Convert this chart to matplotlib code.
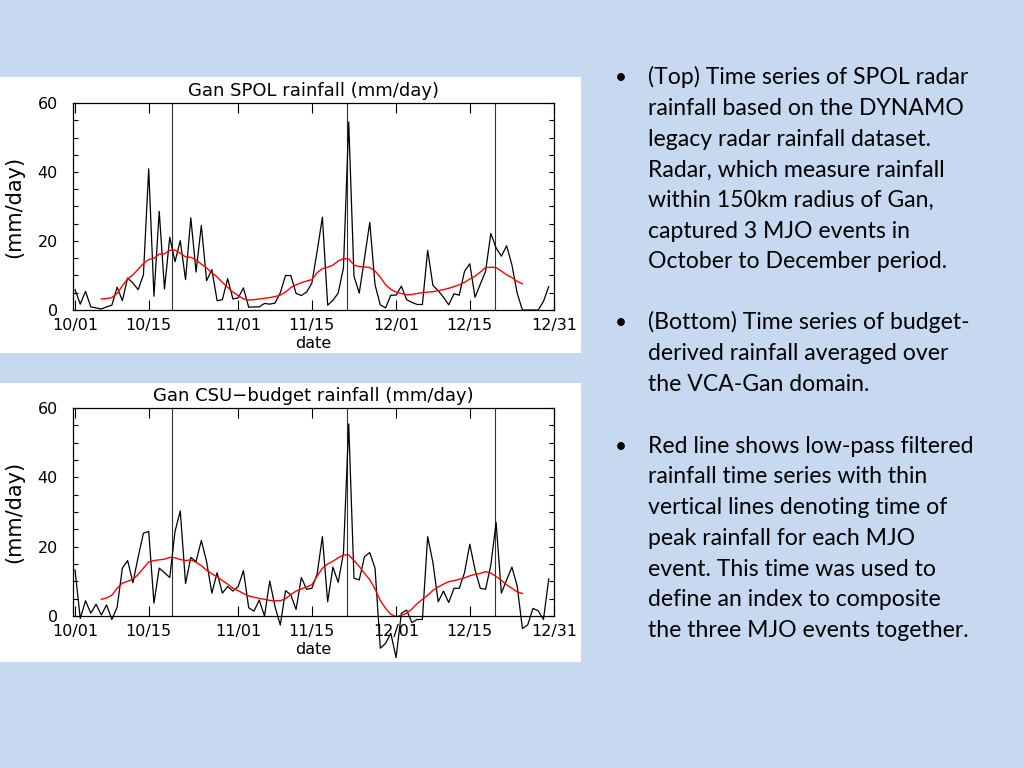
import matplotlib
matplotlib.use("Agg")
import matplotlib.pyplot as plt
from matplotlib.patches import Rectangle
import numpy as np

# ============================================================
# Data
# ============================================================
# day index 0 = 10/01, daily values through 12/30
spol_daily = [
    5.9, 1.7, 5.4, 0.9, 0.6, 0.3, 0.9, 1.4, 6.6, 2.7,
    9.3, 7.8, 5.9, 10.2, 40.9, 4.0, 28.6, 6.1, 21.1, 14.0,
    20.1, 8.8, 26.7, 11.0, 24.5, 8.5, 11.7, 2.7, 3.0, 9.1,
    3.2, 3.5, 6.4, 0.8, 0.9, 0.9, 1.9, 1.7, 2.0, 5.0,
    10.0, 10.0, 4.8, 4.2, 5.2, 7.8, 17.0, 26.9, 1.4, 2.8,
    4.9, 12.2, 54.5, 9.8, 4.9, 15.0, 25.4, 7.3, 1.5, 0.6,
    4.3, 4.3, 6.9, 3.0, 2.2, 1.6, 1.6, 17.3, 7.1, 5.6,
    3.7, 1.5, 4.7, 4.3, 11.2, 13.4, 3.7, 7.5, 11.2, 22.2,
    18.0, 15.6, 18.6, 13.1, 4.9, 0.0, 0.0, 0.0, 0.0, 2.5,
    6.8,
]
budget_daily = [
    13.3, -0.7, 4.4, 0.8, 3.4, 0.3, 3.2, -1.0, 2.5, 13.8,
    16.0, 9.6, 17.0, 23.9, 24.4, 3.7, 13.8, 12.5, 11.1, 24.4,
    30.3, 9.4, 16.9, 15.7, 21.8, 15.7, 6.6, 12.5, 6.6, 8.5,
    7.2, 8.5, 13.1, 2.4, 1.4, 4.6, 0.0, 10.1, 2.7, -2.6,
    7.3, 6.1, 1.9, 11.1, 7.7, 8.0, 12.1, 22.9, 4.1, 14.1,
    9.7, 18.1, 55.4, 10.9, 10.4, 17.1, 18.3, 13.8, -9.3, -7.9,
    -5.0, -12.0, 0.8, 1.7, -1.9, -1.0, -1.0, 22.9, 15.4, 4.1,
    7.2, 3.9, 8.0, 8.0, 12.5, 20.7, 13.3, 8.0, 7.7, 14.7,
    27.0, 6.6, 10.4, 14.1, 8.7, -3.6, -2.6, 2.2, 1.5, -1.0,
    10.7,
]

# low-pass filtered series, days 5..85
filt_start = 5
spol_filtered = [
    3.2, 3.3, 3.6, 4.8, 7.0, 9.0, 10.2, 11.8, 13.5, 14.6,
    15.0, 16.2, 16.3, 17.3, 17.4, 16.5, 15.4, 15.3, 14.5, 13.3,
    12.2, 10.8, 9.6, 8.0, 6.6, 5.2, 4.2, 3.2, 2.9, 3.0,
    3.2, 3.4, 3.6, 3.9, 4.3, 5.2, 6.5, 7.3, 7.9, 8.4,
    8.8, 10.8, 12.0, 12.4, 13.0, 14.2, 14.9, 14.8, 13.0, 12.6,
    12.5, 12.3, 11.3, 9.5, 7.3, 6.0, 5.2, 4.8, 4.4, 4.5,
    4.8, 5.0, 5.2, 5.3, 5.6, 5.9, 6.3, 6.8, 7.3, 8.0,
    9.0, 9.8, 11.0, 12.3, 12.4, 12.3, 11.3, 10.2, 9.4, 8.3,
    7.6,
]
budget_filtered = [
    4.8, 5.2, 6.0, 8.0, 9.5, 10.0, 10.6, 12.0, 13.8, 15.6,
    16.0, 16.2, 16.4, 16.9, 16.8, 16.3, 16.0, 16.2, 15.5, 14.5,
    13.2, 12.2, 11.3, 10.2, 9.2, 8.0, 7.3, 6.5, 5.8, 5.4,
    5.1, 4.8, 4.5, 4.4, 4.4, 5.0, 6.2, 7.2, 7.8, 8.4,
    9.0, 11.5, 13.8, 15.0, 15.8, 16.8, 17.6, 17.6, 16.0, 14.3,
    12.3, 10.5, 7.8, 4.5, 2.2, 0.5, -0.2, 0.2, 0.8, 2.0,
    3.6, 4.8, 6.0, 7.4, 8.4, 9.2, 9.9, 10.2, 10.6, 11.0,
    11.6, 12.0, 12.3, 12.8, 12.4, 11.4, 10.3, 9.0, 8.0, 7.0,
    6.5,
]

# times of peak rainfall for the three MJO events (days after 10/01)
mjo_peaks = [18.5, 51.6, 79.7]

date_ticks = [0, 14, 31, 45, 61, 75, 91]
date_labels = ["10/01", "10/15", "11/01", "11/15", "12/01", "12/15", "12/31"]

titles = ["Gan SPOL rainfall (mm/day)", "Gan CSU\u2212budget rainfall (mm/day)"]

bullets = [
    ["(Top) Time series of SPOL radar",
     "rainfall based on the DYNAMO",
     "legacy radar rainfall dataset.",
     "Radar, which measure rainfall",
     "within 150km radius of Gan,",
     "captured 3 MJO events in",
     "October to December period."],
    ["(Bottom) Time series of budget-",
     "derived rainfall averaged over",
     "the VCA-Gan domain."],
    ["Red line shows low-pass filtered",
     "rainfall time series with thin",
     "vertical lines denoting time of",
     "peak rainfall for each MJO",
     "event. This time was used to",
     "define an index to composite",
     "the three MJO events together."],
]

# ============================================================
# Figure / slide background
# ============================================================
W, H = 1024, 768
fig = plt.figure(figsize=(W / 100, H / 100), dpi=100)
fig.patch.set_facecolor("#C6D9F0")


def fx(px):
    return px / W


def fy(py):
    return 1 - py / H


# white panels behind the two charts
for top, bot in [(77, 353), (383, 662)]:
    fig.add_artist(Rectangle((0, fy(bot)), fx(581), (bot - top) / H,
                             transform=fig.transFigure, facecolor="white",
                             edgecolor="none", zorder=0))

series = [(spol_daily, spol_filtered), (budget_daily, budget_filtered)]
axes_px = [(103, 310), (408, 616)]

for (daily, filt), (top, bot), title in zip(series, axes_px, titles):
    ax = fig.add_axes([fx(73), fy(bot), fx(554 - 73), (bot - top) / H])
    ax.set_facecolor("white")
    days = np.arange(len(daily))
    fdays = np.arange(filt_start, filt_start + len(filt))

    for p in mjo_peaks:
        ax.axvline(p, color="#333333", linewidth=0.8)
    ax.plot(days, daily, color="black", linewidth=0.9, clip_on=False)
    ax.plot(fdays, filt, color="red", linewidth=1.0)

    ax.set_xlim(-0.38, 91)
    ax.set_ylim(0, 60)
    ax.set_xticks(date_ticks)
    ax.set_xticklabels(date_labels)
    ax.set_yticks([0, 20, 40, 60])
    ax.set_yticks(np.arange(0, 61, 5), minor=True)

    ax.tick_params(axis="x", which="major", direction="in", top=True,
                   length=7, width=0.8, labelsize=11.5, pad=5.5)
    ax.tick_params(axis="y", which="both", direction="in", right=True,
                   length=3.5, width=0.8, labelsize=11.5, pad=11)
    for s in ax.spines.values():
        s.set_linewidth(0.9)

    ax.set_title(title, fontsize=13, pad=5)
    ax.set_xlabel("date", fontsize=11.5)
    ax.xaxis.set_label_coords(0.5, -0.125)
    ax.set_ylabel("(mm/day)", fontsize=15)
    ax.yaxis.set_label_coords(-0.101, 0.5)

# ============================================================
# Bullet text
# ============================================================
first_baselines = [84.3, 329.3, 452.7]
pitch = 30.7
for lines, y0 in zip(bullets, first_baselines):
    fig.text(fx(615), fy(y0), "\u2022", fontsize=15, family="Lato",
             va="baseline", ha="left", color="black")
    for i, line in enumerate(lines):
        fig.text(fx(648), fy(y0 + i * pitch), line, fontsize=16.6,
                 family="Lato", va="baseline", ha="left", color="black")

fig.savefig("out.png", dpi=100, facecolor=fig.get_facecolor())
